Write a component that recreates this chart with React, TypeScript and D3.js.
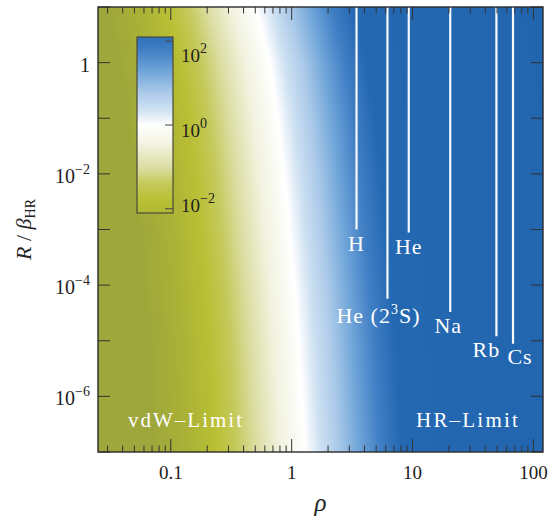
import React from 'react';
import * as d3 from 'd3';

const W = 548;
const H = 518;
const M = { left: 98, right: 5, top: 7, bottom: 66 };
const FONT = 'Liberation Serif, Times New Roman, Times, serif';

// axes
const rhoDomain = [0.025, 120];
const ratioDomain = [1e-7, 10];
const rhoTickValues = [0.1, 1, 10, 100];
const rhoTickLabels = ['0.1', '1', '10', '100'];
const ratioLabelExps = [-6, -4, -2, 0];
const barDomain = [-2.1, 2.1];
const barExps = [-2, 0, 2];

// where the field crosses 1 (white) for each R / beta
const contourR = [1e-7, 1e-6, 1e-5, 1e-4, 1e-3, 1e-2, 1e-1, 1, 10];
const contourRho = [1.3, 1.22, 1.15, 1.06, 0.96, 0.87, 0.77, 0.66, 0.51];

// log10 of the field along a row, in decades of rho away from the white contour
const profileOffset = [-3, -1.25, -1.0, -0.74, -0.4, -0.2, 0, 0.12, 0.28, 0.45, 0.62, 0.8, 3];
const profileLog = [-3.0, -2.9, -2.4, -1.8, -1.0, -0.45, 0, 0.35, 0.8, 1.3, 1.8, 2.3, 2.6];

// colour function
const cmapLog = [-3.0, -2.4, -1.8, -1.4, -1.0, -0.45, 0, 0.35, 0.8, 1.3, 1.8, 2.3, 2.6];
const cmapColor = ['#9ca53c', '#a9b137', '#b9bf33', '#c5c95a', '#dcdea4', '#f2f3e0', '#ffffff',
  '#d0e2f2', '#a8c8e8', '#6ea4d8', '#3f7ec4', '#2468b2', '#2064ae'];

// atoms: rho and where the line stops
const atomNames = ['H', 'He', 'He (2³S)', 'Na', 'Rb', 'Cs'];
const atomRho = [3.44, 9.3, 6.2, 20.5, 49.4, 67.8];
const atomREnd = [1.0e-3, 8.8e-4, 5.7e-5, 3.3e-5, 1.2e-5, 8.8e-6];

// label nudges (px)
const atomDx = [0, 0, -9, -2, -10, 7];
const atomDy = [21, 21, 24, 21, 21, 20];

const sup = (e: number) => (e < 0 ? '\u2212' + -e : String(e));

export default function App() {
  const x = d3.scaleLog().domain(rhoDomain).range([M.left, W - M.right]);
  const y = d3.scaleLog().domain(ratioDomain).range([H - M.bottom, M.top]);
  const contour = d3.scaleLinear().domain(contourR.map(Math.log10)).range(contourRho.map(Math.log10));
  const profile = d3.scaleLinear().domain(profileOffset).range(profileLog).clamp(true);
  const color = d3.scaleLinear<string>().domain(cmapLog).range(cmapColor)
    .interpolate(d3.interpolateRgb).clamp(true);

  const span = [-3, 3];
  const nStops = 150;
  const fieldStops = d3.range(nStops + 1).map(i => {
    const o = span[0] + ((span[1] - span[0]) * i) / nStops;
    return { off: i / nStops, c: color(profile(o)) };
  });

  const rowH = 2;
  const plotBottom = H - M.bottom;
  const rows = d3.range(M.top, plotBottom, rowH).map(y0 => {
    const r = y.invert(y0 + rowH / 2);
    const lw = contour(Math.log10(r));
    const x0 = x(10 ** (lw + span[0]));
    const x1 = x(10 ** (lw + span[1]));
    return { y0, x0, w: x1 - x0 };
  });

  const cb = d3.scaleLinear().domain(barDomain).range([213, 37]);
  const cbX = 137;
  const cbW = 36;
  const barStops = d3.range(101).map(i => {
    const v = barDomain[0] + ((barDomain[1] - barDomain[0]) * i) / 100;
    return { off: i / 100, c: color(v) };
  });

  const minorTicks = x.ticks().filter(t => !rhoTickValues.some(m => Math.abs(m - t) / m < 1e-6));
  const yTicks = d3.range(-7, 2).map(e => 10 ** e);

  const x0 = M.left;
  const x1 = W - M.right;
  const y0 = M.top;
  const y1 = plotBottom;
  const tickColor = '#333';

  return (
    <svg width={W} height={H} style={{ position: 'absolute', left: 0, top: 0, background: '#fff', fontFamily: FONT }}>
      <defs>
        <linearGradient id="field" x1="0" y1="0" x2="1" y2="0">
          {fieldStops.map((s, i) => <stop key={i} offset={s.off} stopColor={s.c} />)}
        </linearGradient>
        <linearGradient id="bar" x1="0" y1="1" x2="0" y2="0">
          {barStops.map((s, i) => <stop key={i} offset={s.off} stopColor={s.c} />)}
        </linearGradient>
        <clipPath id="plot">
          <rect x={x0} y={y0} width={x1 - x0} height={y1 - y0} />
        </clipPath>
      </defs>

      <g clipPath="url(#plot)">
        {rows.map((r, i) => (
          <rect key={i} x={r.x0} y={r.y0} width={r.w} height={rowH + 0.6} fill="url(#field)" />
        ))}
        {atomNames.map((n, i) => (
          <line key={n} x1={x(atomRho[i])} x2={x(atomRho[i])} y1={y0} y2={y(atomREnd[i])}
            stroke="#f6f9fd" strokeWidth={2.2} />
        ))}
      </g>

      {/* atom labels */}
      {atomNames.map((n, i) => {
        const tx = x(atomRho[i]) + atomDx[i];
        const ty = y(atomREnd[i]) + atomDy[i];
        if (n.includes('³')) {
          return (
            <text key={n} x={tx} y={ty} textAnchor="middle" fontSize={22} fill="#fff" letterSpacing={1}>
              He (2<tspan fontSize={14} dy={-9}>3</tspan><tspan dy={9}>S)</tspan>
            </text>
          );
        }
        return (
          <text key={n} x={tx} y={ty} textAnchor="middle" fontSize={22} fill="#fff" letterSpacing={1}>{n}</text>
        );
      })}

      <text x={x0 + 30} y={427} fontSize={21} fill="#fff" letterSpacing={2}>vdW–Limit</text>
      <text x={x1 - 23} y={427} fontSize={21} fill="#fff" letterSpacing={2.2} textAnchor="end">HR–Limit</text>

      {/* colorbar */}
      <rect x={cbX} y={cb(barDomain[1])} width={cbW} height={cb(barDomain[0]) - cb(barDomain[1])}
        fill="url(#bar)" stroke="#4a4a3a" strokeWidth={1.2} />
      {barExps.map(e => (
        <g key={e}>
          <line x1={cbX + cbW - 8} x2={cbX + cbW} y1={cb(e)} y2={cb(e)} stroke="#444" strokeWidth={1} />
          <text x={cbX + cbW + 8} y={cb(e) + 12 + 4.25 * e} fontSize={19} fill="#222">
            10<tspan fontSize={14} dy={-9}>{sup(e)}</tspan>
          </text>
        </g>
      ))}

      {/* x ticks */}
      {rhoTickValues.map((t, i) => (
        <g key={t}>
          <line x1={x(t)} x2={x(t)} y1={y1} y2={y1 - 13} stroke={tickColor} />
          <line x1={x(t)} x2={x(t)} y1={y0} y2={y0 + 13} stroke={tickColor} />
          <text x={x(t)} y={479} textAnchor="middle" fontSize={19} fill="#222">{rhoTickLabels[i]}</text>
        </g>
      ))}
      {minorTicks.map(t => (
        <g key={t}>
          <line x1={x(t)} x2={x(t)} y1={y1} y2={y1 - 6.5} stroke={tickColor} />
          <line x1={x(t)} x2={x(t)} y1={y0} y2={y0 + 6.5} stroke={tickColor} />
        </g>
      ))}

      {/* y ticks */}
      {yTicks.map(t => (
        <g key={t}>
          <line x1={x0} x2={x0 + 12} y1={y(t)} y2={y(t)} stroke={tickColor} />
          <line x1={x1} x2={x1 - 12} y1={y(t)} y2={y(t)} stroke={tickColor} />
        </g>
      ))}
      {ratioLabelExps.map(e => (
        <text key={e} x={90} y={y(10 ** e) + 9} textAnchor="end" fontSize={20} fill="#222">
          {e === 0 ? '1' : (<>10<tspan fontSize={14} dy={-9}>{sup(e)}</tspan></>)}
        </text>
      ))}

      <rect x={x0} y={y0} width={x1 - x0} height={y1 - y0} fill="none" stroke="#2b2b2b" strokeWidth={1.4} />

      {/* axis titles */}
      <text x={(x0 + x1) / 2} y={511} textAnchor="middle" fontSize={25} fontStyle="italic" fill="#222">ρ</text>
      <text transform={`translate(31, ${(y0 + y1) / 2}) rotate(-90)`} textAnchor="middle" fontSize={22} fill="#222">
        <tspan fontStyle="italic">R</tspan> / <tspan fontStyle="italic">β</tspan>
        <tspan fontSize={14} dy={4}>HR</tspan>
      </text>
    </svg>
  );
}
